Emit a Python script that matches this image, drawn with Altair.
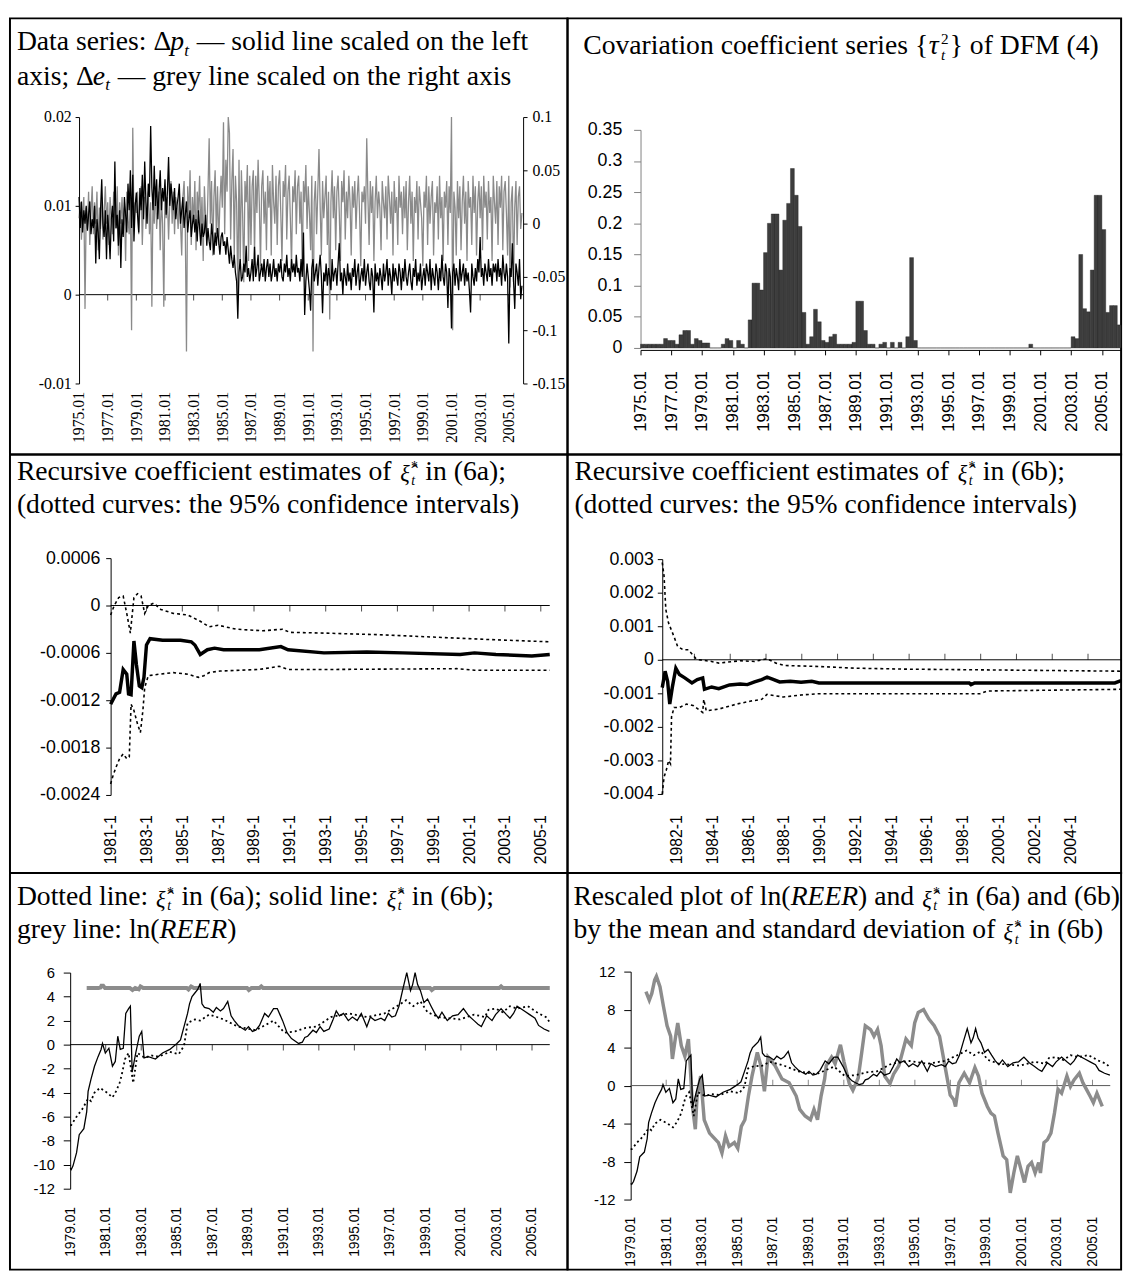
import altair as alt
import pandas as pd
import unicodedata

SERIF = "Liberation Serif, Times New Roman, serif"
SANS = "Liberation Sans, Arial, sans-serif"

WL, WR = 565, 561
H1, H2, H3 = 442, 424, 402
TS = 28

# ---------------- Panel 1: monthly data 1975.01-2005.12 ----------------
dp_x1e4 = [
    [110, 75, 105, 70, 95, 80, 100, 72, 90, 105, 68, 85],
    [75, 100, 35, 85, 70, 40, 95, 130, 80, 65, 95, 40],
    [90, 70, 40, 85, 100, 60, 150, 75, 90, 55, 95, 30],
    [85, 65, 110, 90, 70, 125, 95, 140, 75, 135, 60, 100],
    [115, 90, 70, 120, 95, 135, 85, 150, 105, 80, 125, 110],
    [190, 120, 95, 145, 100, 130, 85, 115, 140, 95, 120, 105],
    [130, 90, 115, 155, 100, 125, 110, 95, 120, 85, 100, 110],
    [125, 80, 95, 110, 75, 90, 105, 70, 85, 95, 65, 80],
    [90, 70, 85, 60, 95, 75, 55, 80, 65, 70, 90, 55],
    [75, 60, 50, 80, 65, 45, 70, 55, 75, 60, 45, 65],
    [70, 55, 60, 45, 65, 50, 35, 55, 40, 30, 45, 25],
    [15, -27, 25, 40, 15, 20, 35, 25, 55, 20, 30, 15],
    [25, 40, 15, 54, 20, 30, 45, 15, 25, 35, 20, 40],
    [15, 30, 40, 20, 35, 15, 25, 40, 20, 30, 15, 35],
    [25, 40, 20, 15, 35, 25, 45, 20, 30, 15, 40, 25],
    [35, 20, 45, 25, 30, 15, 40, 20, 70, -23, 15, 35],
    [20, 5, -18, 30, 40, 15, 25, 35, 10, 30, 45, 20],
    [-21, 25, 15, 35, 10, 30, 20, 5, 40, 15, 25, 30],
    [10, 35, 58, 15, 25, 0, 30, 20, 10, 35, 15, 25],
    [5, 30, 20, 40, 10, 25, 35, 5, 20, 30, 15, 40],
    [10, 25, 35, 15, 5, 30, 20, -20, 35, 15, 25, 10],
    [30, 20, 5, 35, 15, 25, 40, 10, 30, 20, 0, 35],
    [15, 30, 20, 10, 35, 25, 5, 30, 15, 40, 20, 10],
    [25, 35, 15, 5, 30, 20, 40, 10, 25, 15, 35, 5],
    [20, 30, 10, 35, 25, 15, 40, 5, 30, 20, 10, 35],
    [25, 5, 30, 15, 45, 20, 10, 35, 25, -15, 30, 20],
    [-38, 25, 35, 10, 30, 20, 5, 40, 15, 25, 35, 10],
    [30, 15, 25, 5, -20, 35, 20, 10, 30, 15, 40, 25],
    [65, 20, 30, 10, 35, 25, 15, 40, 20, 30, 10, 35],
    [25, 35, 15, 40, 20, 30, 10, 45, 25, 15, 35, 20],
    [-55, 30, 20, 58, 15, -16, 35, 25, 10, 40, -5, 10],
]
de_x1e3 = [
    [5, 20, -15, 10, 25, -80, 15, -5, 30, -20, 10, 35],
    [-10, 20, 0, 30, -25, 15, -5, 25, -15, 10, 35, 0],
    [20, -20, 25, 5, -10, 30, 10, -5, 35, -30, 20, 0],
    [25, -5, 15, -35, 30, 5, -10, 25, -100, 90, 0, 20],
    [10, 30, -10, 15, 35, -20, 20, 25, -5, 15, 30, -10],
    [20, -78, 25, 0, 35, -5, 15, 30, -25, 25, 0, -78],
    [35, 5, 25, -15, 20, 40, 0, 30, -10, 25, 15, -5],
    [30, 0, -30, 25, 40, -5, -120, 35, 5, 50, -20, 25],
    [0, 40, -25, 30, 10, 45, -10, 25, -35, 35, 5, -15],
    [30, 80, 0, 40, -30, 25, 50, -10, 35, -20, 20, 45],
    [15, 95, -10, 60, 30, 100, 85, -15, 40, 70, -30, 45],
    [20, -70, 60, -40, 50, 10, -55, 40, 20, 55, -35, 45],
    [-20, 35, 50, -30, 45, 10, 60, 20, -40, 35, 50, 0],
    [30, -25, 45, 15, 40, -30, 55, 20, 0, 45, -20, 35],
    [50, 10, -35, 40, 25, 55, -15, 30, 45, 5, -40, 35],
    [20, 50, -10, 35, 45, 0, 30, -45, 40, 20, 55, -5],
    [35, 10, -25, 45, -120, 20, 40, -10, 30, 70, 15, -30],
    [40, 5, 25, 45, -20, 30, -90, 20, 50, 5, 35, -25],
    [30, 45, 10, -35, 40, 20, 50, -15, 30, 5, 45, 20],
    [-30, 35, 15, 40, -5, 25, 45, 10, -40, 30, 20, 35],
    [0, 80, 25, -20, 40, 10, 35, -35, 20, 45, 5, 30],
    [15, -25, 40, 20, 5, 35, -15, 45, 25, 0, 30, -30],
    [40, 10, 25, -20, 45, 15, 30, -10, 35, 5, 40, -25],
    [20, 45, 0, 30, -35, 25, 10, 40, -15, 35, 20, 5],
    [-40, 30, 15, 45, -20, 35, 0, 25, 40, -30, 20, 10],
    [35, -15, 45, 5, 25, -35, 30, 15, 40, -20, 35, 10],
    [100, -100, 30, 15, -30, 40, 5, 35, -25, 20, 45, 0],
    [30, -35, 40, 15, 25, -20, 45, 10, 35, -30, 20, 40],
    [5, 35, -25, 45, 15, 30, -15, 40, 10, 25, -35, 45],
    [20, 0, 40, -20, 35, 15, 45, -25, 30, 40, 10, -30],
    [45, -60, 20, 35, -55, 15, 40, -20, 25, 35, -5, 10],
]

# ---------------- Panel 2: quarterly tau^2, from 1975Q1 ----------------
tau2 = [0.006, 0.006, 0.006, 0.006, 0.006, 0.006, 0.015, 0.012, 0.012, 0.006,
        0.021, 0.028, 0.028, 0.006, 0.015, 0.012, 0.008, 0.008, 0, 0,
        0, 0.006, 0.015, 0.012, 0, 0.012, 0.006, 0, 0.045, 0.104,
        0.104, 0.093, 0.153, 0.2, 0.215, 0.215, 0.125, 0.205, 0.232, 0.288,
        0.245, 0.195, 0.057, 0.006, 0.018, 0.062, 0.042, 0.012, 0.009, 0.018,
        0.022, 0.006, 0.006, 0.006, 0.006, 0.009, 0.075, 0.075, 0.028, 0.006,
        0.006, 0, 0.006, 0.009, 0, 0.009, 0, 0.009, 0, 0.018,
        0.145, 0.012, 0, 0, 0, 0, 0, 0, 0, 0,
        0, 0, 0, 0, 0, 0, 0, 0, 0, 0,
        0, 0, 0, 0, 0, 0, 0, 0, 0, 0,
        0, 0.006, 0, 0, 0, 0, 0, 0, 0, 0,
        0, 0, 0.018, 0.015, 0.15, 0.063, 0.058, 0.125, 0.245,
        0.245, 0.19, 0.057, 0.068, 0.068, 0.037]

# ---------------- Panel 3: recursive estimates (6a) ----------------
a_est_yr = [1981.0, 1981.3, 1981.5, 1981.7, 1981.9, 1982.0, 1982.14, 1982.3, 1982.44, 1982.6,
            1982.74, 1982.86, 1983.0, 1983.2, 1983.9, 1984.9, 1985.5, 1985.7, 1986.0, 1986.4,
            1986.8, 1987.3, 1989.3, 1990.5, 1990.9, 1992.9, 1995.3, 1997.3, 2000.5, 2001.3,
            2002.5, 2004.5, 2005.5]
a_est = [-0.00125, -0.00112, -0.0011, -0.00081, -0.00087, -0.00112, -0.00113, -0.00045, -0.00075, -0.00102,
         -0.00104, -0.00091, -0.0005, -0.00042, -0.00044, -0.00044, -0.00046, -0.0005, -0.00062, -0.00056,
         -0.00054, -0.00056, -0.00056, -0.00052, -0.00056, -0.0006, -0.00059, -0.0006, -0.00062, -0.0006,
         -0.00062, -0.00064, -0.00062]
a_up_yr = [1981.0, 1981.2, 1981.45, 1981.7, 1981.9, 1982.1, 1982.3, 1982.5, 1982.7, 1982.9,
           1983.1, 1983.4, 1983.8, 1984.5, 1985.3, 1986.0, 1986.5, 1987.0, 1988.0, 1989.5,
           1990.6, 1991.0, 1993.0, 1996.0, 1999.0, 2002.0, 2005.5]
a_up = [-0.00012, 0.0, 0.0001, 0.00012, -0.0001, -0.00035, 0.0001, 0.00015, 0.00012, -0.0001,
        0.0, 0.00003, -0.00005, -0.0001, -0.00012, -0.0002, -0.00027, -0.00025, -0.0003, -0.00032,
        -0.0003, -0.00034, -0.00035, -0.00037, -0.0004, -0.00043, -0.00046]
a_lo_yr = [1981.0, 1981.14, 1981.3, 1981.5, 1981.7, 1981.9, 1982.04, 1982.14, 1982.3, 1982.5,
           1982.66, 1982.8, 1982.9, 1983.1, 1983.7, 1984.5, 1985.3, 1985.9, 1986.2, 1986.5,
           1987.1, 1989.3, 1990.4, 1990.9, 1993.3, 2000.3, 2001.3, 2005.5]
a_lo = [-0.00226, -0.00215, -0.00205, -0.00194, -0.00188, -0.00194, -0.00192, -0.00125, -0.00133, -0.0015,
        -0.00161, -0.00133, -0.00104, -0.00089, -0.00087, -0.00085, -0.00087, -0.00091, -0.00089, -0.00085,
        -0.00083, -0.00081, -0.00077, -0.00081, -0.00081, -0.0008, -0.00082, -0.00082]

# ---------------- Panel 4: recursive estimates (6b) ----------------
b_est_yr = [1981.2, 1981.36, 1981.5, 1981.62, 1981.76, 1981.96, 1982.16, 1982.46, 1982.86, 1983.16,
            1983.46, 1983.56, 1983.96, 1984.36, 1984.96, 1985.56, 1985.96, 1986.36, 1986.76, 1987.06,
            1987.36, 1987.76, 1988.36, 1988.96, 1989.56, 1989.96, 1993.96, 1998.36, 1998.46, 1998.66,
            2003.96, 2006.5, 2006.85]
b_est = [-0.00083, -0.00034, -0.00064, -0.00132, -0.00083, -0.00025, -0.00044, -0.00054, -0.00069, -0.00059,
         -0.00054, -0.00088, -0.00081, -0.00086, -0.00075, -0.00072, -0.00074, -0.00066, -0.00059, -0.00052,
         -0.00058, -0.00066, -0.00064, -0.00067, -0.00064, -0.00069, -0.00069, -0.00069, -0.00074, -0.00069,
         -0.00069, -0.00069, -0.00062]
b_up_yr = [1981.2, 1981.3, 1981.4, 1981.55, 1981.7, 1981.85, 1982.06, 1982.36, 1982.66, 1983.06,
           1983.26, 1983.96, 1984.36, 1985.16, 1985.56, 1986.36, 1987.06, 1987.56, 1988.06, 1989.96,
           1991.96, 1994.96, 1998.96, 2002.96, 2006.85]
b_up = [0.0029, 0.0025, 0.0015, 0.0011, 0.0009, 0.0007, 0.0004, 0.0003, 0.0003, 0.00005,
        0.0, -0.00005, -0.0001, -0.00005, -0.00003, -0.00005, 0.00003, -0.0001, -0.00017, -0.0002,
        -0.00025, -0.00028, -0.0003, -0.00032, -0.00034]
b_lo_yr = [1981.2, 1981.3, 1981.42, 1981.56, 1981.66, 1981.72, 1981.86, 1982.16, 1982.56, 1982.96,
           1983.46, 1983.52, 1983.66, 1984.36, 1985.36, 1986.16, 1986.76, 1987.06, 1987.96, 1988.96,
           1989.96, 1998.96, 1999.36, 2006.85]
b_lo = [-0.004, -0.0035, -0.0033, -0.003, -0.0031, -0.0017, -0.00142, -0.00142, -0.00132, -0.00137,
        -0.00157, -0.00118, -0.00152, -0.00147, -0.00132, -0.00123, -0.00118, -0.00103, -0.00111, -0.00105,
        -0.00101, -0.00101, -0.00093, -0.00088]

# ---------------- Panels 5/6: xi* (6b) solid, (6a) dotted, ln(REER) ----------------
sol_yr = [1979.00, 1979.06, 1979.16, 1979.36, 1979.51, 1979.77, 1979.93, 1980.01, 1980.17, 1980.37,
          1980.57, 1980.74, 1980.82, 1980.98, 1981.18, 1981.38, 1981.54, 1981.68, 1981.82, 1981.99,
          1982.13, 1982.29, 1982.39, 1982.49, 1982.69, 1982.89, 1983.03, 1983.16, 1983.40, 1983.80,
          1984.20, 1984.61, 1985.01, 1985.21, 1985.41, 1985.61, 1985.72, 1985.86, 1986.02, 1986.18,
          1986.32, 1986.42, 1986.56, 1986.82, 1987.06, 1987.23, 1987.46, 1987.63, 1987.87, 1988.06,
          1988.24, 1988.46, 1988.64, 1988.86, 1989.04, 1989.26, 1989.45, 1989.66, 1989.95, 1990.16,
          1990.45, 1990.66, 1990.81, 1990.96, 1991.21, 1991.46, 1991.66, 1991.86, 1992.07, 1992.21,
          1992.37, 1992.67, 1992.86, 1993.07, 1993.28, 1993.58, 1993.78, 1993.98, 1994.16, 1994.39,
          1994.66, 1994.89, 1995.16, 1995.39, 1995.70, 1995.90, 1996.16, 1996.50, 1996.71, 1996.91,
          1997.11, 1997.31, 1997.51, 1997.71, 1997.95, 1998.16, 1998.28, 1998.42, 1998.56, 1998.72,
          1998.92, 1999.12, 1999.32, 1999.53, 1999.73, 1999.93, 2000.23, 2000.53, 2000.84, 2001.14,
          2001.44, 2001.74, 2001.96, 2002.15, 2002.45, 2002.75, 2002.95, 2003.26, 2003.56, 2003.76,
          2003.96, 2004.16, 2004.57, 2004.87, 2005.17, 2005.37, 2005.68, 2005.98]
sol = [-10.3, -10.4, -10.1, -9.0, -7.5, -7.0, -5.6, -3.9, -2.9, -1.8,
       -1.0, -0.4, 0.1, -0.7, -0.3, -1.8, -1.4, 0.7, -0.4, -0.3,
       2.6, 3.0, 3.2, -2.3, -0.7, 0.7, 1.1, -1.1, -1.0, -1.2,
       -0.7, -0.4, 0.1, 0.4, 1.5, 2.6, 3.4, 4.0, 4.3, 4.6,
       5.1, 3.4, 3.1, 3.0, 2.7, 3.1, 2.8, 3.0, 3.6, 2.4,
       2.0, 1.6, 1.4, 1.2, 1.5, 1.1, 1.2, 1.6, 2.6, 2.3,
       3.0, 3.0, 2.5, 2.0, 1.0, 0.5, 0.3, 0.1, 0.2, 0.6,
       0.7, 1.2, 1.0, 1.5, 1.1, 1.3, 2.0, 2.8, 2.4, 2.6,
       2.0, 2.3, 2.0, 2.6, 1.5, 2.3, 2.0, 2.2, 2.0, 2.6,
       2.3, 2.4, 3.2, 4.5, 6.0, 4.5, 5.0, 6.0, 5.0, 4.5,
       3.5, 3.8, 3.2, 2.6, 2.2, 2.7, 2.0, 2.4, 2.5, 3.0,
       2.4, 2.0, 1.7, 1.5, 2.4, 2.0, 2.5, 3.0, 2.5, 2.2,
       2.6, 3.2, 2.8, 2.5, 2.2, 1.6, 1.3, 1.1]
dot_yr = [1979.00, 1979.06, 1979.36, 1979.67, 1980.01, 1980.17, 1980.37, 1980.68, 1981.08, 1981.38,
          1981.58, 1981.78, 1981.89, 1982.09, 1982.29, 1982.55, 1982.79, 1983.20, 1983.56, 1984.00,
          1984.61, 1985.11, 1985.41, 1985.61, 1986.02, 1986.32, 1986.82, 1987.26, 1987.63, 1988.44,
          1989.45, 1990.45, 1991.06, 1991.66, 1992.27, 1992.87, 1993.68, 1994.69, 1995.70, 1996.70,
          1997.51, 1997.91, 1998.32, 1998.72, 1999.12, 1999.73, 2000.94, 2001.74, 2002.35, 2002.55,
          2002.95, 2003.36, 2003.76, 2004.16, 2004.77, 2005.37, 2005.78, 2005.98]
dot = [-6.7, -6.7, -6.0, -5.4, -4.5, -4.7, -4.0, -3.6, -4.0, -4.4,
       -3.9, -3.2, -2.6, -1.2, -0.7, -3.2, -0.7, -1.1, -0.9, -1.0,
       -0.6, -0.8, -0.1, 1.8, 2.1, 2.0, 2.5, 2.3, 2.1, 1.5,
       1.2, 2.0, 1.0, 1.1, 1.4, 1.5, 2.3, 2.6, 2.3, 2.6,
       3.3, 3.7, 3.2, 3.6, 2.7, 2.3, 2.1, 2.5, 2.3, 2.9,
       3.0, 2.7, 3.2, 3.0, 3.2, 2.6, 2.3, 1.9]
reer_yr = [1979.93, 1980.6, 1980.71, 1980.76, 1980.86, 1980.96, 1982.36, 1982.51, 1982.66, 1982.86,
           1982.96, 1983.11, 1985.56, 1985.66, 1985.81, 1985.96, 1988.96, 1989.06, 1989.21, 1989.66,
           1989.76, 1989.86, 1999.26, 1999.36, 1999.51, 2003.16, 2003.26, 2003.36, 2006.0]
reer = [4.72, 4.72, 4.75, 4.9, 4.9, 4.72, 4.72, 4.55, 4.72, 4.6,
        4.85, 4.72, 4.72, 4.6, 4.85, 4.72, 4.72, 4.55, 4.72, 4.72,
        4.85, 4.72, 4.72, 4.55, 4.72, 4.72, 4.85, 4.72, 4.72]
reer_s_yr = [1979.86, 1980.05, 1980.19, 1980.35, 1980.45, 1980.65, 1980.85, 1981.05, 1981.25, 1981.35,
             1981.51, 1981.65, 1981.85, 1982.05, 1982.25, 1982.35, 1982.48, 1982.64, 1982.74, 1982.94,
             1983.14, 1983.44, 1983.94, 1984.14, 1984.34, 1984.54, 1984.84, 1985.03, 1985.23, 1985.43,
             1985.63, 1985.83, 1986.13, 1986.33, 1986.53, 1986.73, 1987.13, 1987.52, 1987.92, 1988.32,
             1988.52, 1988.82, 1989.12, 1989.32, 1989.52, 1989.72, 1989.92, 1990.01, 1990.31, 1990.51,
             1990.81, 1991.01, 1991.31, 1991.51, 1991.81, 1992.01, 1992.21, 1992.51, 1992.70, 1992.90,
             1993.10, 1993.30, 1993.60, 1993.80, 1994.10, 1994.50, 1994.80, 1994.99, 1995.19, 1995.49,
             1995.79, 1996.09, 1996.39, 1996.69, 1996.99, 1997.19, 1997.29, 1997.48, 1997.78, 1998.08,
             1998.38, 1998.58, 1998.78, 1999.08, 1999.28, 1999.48, 1999.68, 1999.97, 2000.17, 2000.37,
             2000.57, 2000.77, 2000.97, 2001.17, 2001.37, 2001.57, 2001.77, 2001.97, 2002.07, 2002.27,
             2002.46, 2002.66, 2002.86, 2003.06, 2003.26, 2003.56, 2003.76, 2003.96, 2004.26, 2004.46,
             2004.66, 2004.86, 2005.05, 2005.25, 2005.55]
reer_s = [9.9, 9.0, 9.7, 11.1, 11.5, 10.4, 8.3, 6.3, 5.2, 2.8,
          4.9, 6.6, 4.2, 3.1, 4.9, 2.1, -2.2, -4.6, -1.1, 1.0,
          -3.6, -5.0, -6.0, -7.1, -5.3, -6.4, -6.0, -6.6, -4.3, -3.6,
          -1.1, 1.0, 3.5, 2.1, -0.6, 3.0, 2.1, 0.7, 0.3, -1.1,
          -2.5, -3.2, -3.6, -2.5, -3.6, -1.1, 0.7, 2.1, 3.0, 2.3,
          4.3, 2.5, 0.2, -0.5, 0.8, 3.5, 6.3, 5.9, 5.2, 5.9,
          4.2, 1.0, 0.2, 1.2, 2.1, 4.9, 4.2, 6.6, 7.7, 8.0,
          7.0, 6.3, 5.2, 2.1, -1.0, -1.5, -2.2, 0.3, 1.3, 0.3,
          1.9, 1.0, -0.8, -2.2, -2.9, -3.2, -5.0, -7.4, -7.8, -11.3,
          -9.2, -7.4, -8.8, -10.2, -8.5, -8.1, -9.2, -8.1, -9.2, -6.0,
          -5.7, -5.0, -2.9, -0.4, -0.8, 1.0, -0.1, 0.6, 1.3, 0.3,
          -0.4, -1.1, -1.8, -0.8, -2.2]

# ---------------- tick label lists ----------------
yrs_75 = list(range(1975, 2006, 2))
yrs_79 = list(range(1979, 2006, 2))
yrs_81 = list(range(1981, 2006, 2))
yrs_82 = list(range(1982, 2005, 2))

# ---------------- title texts (segments: regular / italic / math) ----------------
T1a = [("r", "Data series: Δ"), ("i", "p"), ("sub", "t"), ("r", " — solid line scaled on the left")]
T1b = [("r", "axis; Δ"), ("i", "e"), ("sub", "t"), ("r", " — grey line scaled on the right axis")]
T2 = [("r", "Covariation coefficient series {"), ("i", "τ"), ("subsup", ("t", "2")),
      ("r", "} of DFM (4)")]
T3a = [("r", "Recursive coefficient estimates of "), ("xi", ""), ("r", " in (6a);")]
T4a = [("r", "Recursive coefficient estimates of "), ("xi", ""), ("r", " in (6b);")]
T34b = [("r", "(dotted curves: the 95% confidence intervals)")]
T5a = [("r", "Dotted line: "), ("xi", ""), ("r", " in (6a); solid line: "), ("xi", ""), ("r", " in (6b);")]
T5b = [("r", "grey line: ln("), ("i", "REER"), ("r", ")")]
T6a = [("r", "Rescaled plot of ln("), ("i", "REER"), ("r", ") and "), ("xi", ""), ("r", " in (6a) and (6b)")]
T6b = [("r", "by the mean and standard deviation of "), ("xi", ""), ("r", " in (6b)")]

# Times-compatible advance widths (1/1000 em) used to place the title segments
_W = {}
for w, chars in [(250, " ,."), (278, ":;ijlt"), (333, "()-frI"), (389, "sJ"), (444, "acez"),
                 (480, "{}"), (500, "*0123456789bdghknopquvxy"), (556, "FPS"), (611, "ELTZ"),
                 (612, "Δ"), (667, "BCR"), (722, "ADGHKNOQUVXYw"), (778, "m"), (833, "%"),
                 (889, "M"), (944, "W"), (1000, "—"), (439, "τ"), (440, "ξ")]:
    for c in chars:
        _W[c] = w


def text_w(s, italic=False):
    tot, prev = 0, False
    for c in s:
        if unicodedata.combining(c):
            continue
        if c == " ":
            if prev:
                continue
            prev = True
        else:
            prev = False
        w = _W.get(c, 500)
        if italic and c == "R":
            w = 611
        tot += w
    return tot / 1000


def tlayer(s, x, yb, size, italic=False):
    return alt.Chart(pd.DataFrame({"t": [s]})).mark_text(
        align="left", baseline="alphabetic", font=SERIF, fontSize=size,
        fontStyle="italic" if italic else "normal", color="black"
    ).encode(text="t:N", x=alt.value(round(x, 1)), y=alt.value(round(yb, 1)))


def rich(parts, x, y_mid, size=TS):
    yb = y_mid + 0.30 * size
    out, cur = [], x
    for kind, txt in parts:
        if kind in ("r", "i"):
            lead = txt.startswith(" ")
            xs = cur + (0.25 * size if lead else 0)
            out.append(tlayer(txt.strip(" "), xs, yb, size, italic=(kind == "i")))
            cur += text_w(txt, kind == "i") * size
        elif kind == "sub":
            s2 = 0.62 * size
            out.append(tlayer(txt, cur, yb + 0.2 * size, s2, italic=True))
            cur += text_w(txt) * s2 + 0.03 * size
        elif kind == "subsup":
            sub, sup = txt
            s2 = 0.55 * size
            out.append(tlayer(sub, cur, yb + 0.2 * size, s2, italic=True))
            out.append(tlayer(sup, cur, yb - 0.38 * size, s2))
            cur += max(text_w(sub), text_w(sup)) * s2 + 0.04 * size
        elif kind == "xi":
            s1 = 0.8 * size
            out.append(tlayer("ξ\u0302", cur + 0.04 * size, yb + 0.06 * size, s1, italic=True))
            cur += 0.44 * s1 + 0.08 * size
            s2 = 0.5 * size
            out.append(tlayer("*", cur, yb - 0.3 * size, s2))
            out.append(tlayer("t", cur + 0.01 * size, yb + 0.2 * size, s2, italic=True))
            cur += 0.5 * s2 + 0.02 * size
    return out


# ---------------- helpers ----------------
def xlab(values, expr, H, top, font, size, domain=False, tick=0, pad=0):
    return alt.Axis(values=values, labelExpr=expr, orient="bottom", offset=top - H,
                    domain=domain, domainColor="black", ticks=tick > 0, tickSize=tick,
                    tickColor="black", labelAngle=270, labelAlign="right", labelBaseline="middle",
                    labelPadding=pad, labelFont=font, labelFontSize=size, labelColor="black",
                    labelFlush=False, labelOverlap=False, grid=False, title=None)


def yax(values, xpos, font, size, orient="left", W=0, color="black", pad=3, tick=4):
    off = -xpos if orient == "left" else -(W - xpos)
    return alt.Axis(values=values, labelExpr="'' + datum.value", orient=orient, offset=off,
                    domainColor=color, tickColor=color, tickSize=tick, labelFont=font,
                    labelFontSize=size, labelColor="black", labelPadding=pad, grid=False,
                    title=None, labelFlush=False, labelOverlap=False)


def zero_layer(x0, x1, sx, sy, xa, ya, color="black"):
    return alt.Chart(pd.DataFrame({"yr": [x0, x1], "v": [0, 0]})).mark_line(
        color=color, strokeWidth=1).encode(
        x=alt.X("yr:Q", scale=sx, axis=xa), y=alt.Y("v:Q", scale=sy, axis=ya))


def tick_layer(years, sx, sy, xa, ya, down=True, color="black"):
    return alt.Chart(pd.DataFrame({"yr": years, "v": [0] * len(years)})).mark_tick(
        orient="vertical", size=6, thickness=1, color=color, yOffset=3 if down else -3).encode(
        x=alt.X("yr:Q", scale=sx, axis=xa), y=alt.Y("v:Q", scale=sy, axis=ya))


def line(xs, ys, sx, sy, xa, ya, **kw):
    df = pd.DataFrame({"yr": xs, "v": ys})
    return alt.Chart(df).mark_line(**kw).encode(
        x=alt.X("yr:Q", scale=sx, axis=xa), y=alt.Y("v:Q", scale=sy, axis=ya))


DASH = [3, 3]

# ---------------- Panel 1 ----------------
yr1 = [1975 + i / 12 for i in range(372)]
dp = [v * 1e-4 for row in dp_x1e4 for v in row]
de = [v * 1e-3 for row in de_x1e3 for v in row]
sx1 = alt.Scale(domain=[1975, 2006], range=[70, 520], nice=False, zero=False)
syl = alt.Scale(domain=[-0.01, 0.02], range=[370, 100], nice=False, zero=False)
syr = alt.Scale(domain=[-0.15, 0.1], range=[370, 100], nice=False, zero=False)
xa1 = xlab(yrs_75, "datum.value + '.01'", H1, 378, SERIF, 16)
ya1l = yax([-0.01, 0, 0.01, 0.02], 70, SERIF, 16, pad=4)
ya1r = yax([-0.15, -0.1, -0.05, 0, 0.05, 0.1], 520, SERIF, 16, orient="right", W=WL, pad=5)
p1 = alt.layer(
    zero_layer(1975, 2006, sx1, syl, xa1, None),
    tick_layer(yrs_75[1:], sx1, syl, xa1, None, down=True),
    line(yr1, de, sx1, syr, xa1, ya1r, color="#8a8a8a", strokeWidth=1.3),
    line(yr1, dp, sx1, syl, xa1, ya1l, color="black", strokeWidth=1.3),
    *rich(T1a, 7, 24), *rich(T1b, 7, 59),
).resolve_scale(y="independent").properties(width=WL, height=H1)

# ---------------- Panel 2 ----------------
df2 = pd.DataFrame({"s": [1975 + q / 4 for q in range(len(tau2))],
                    "e": [1975 + (q + 1) / 4 for q in range(len(tau2))],
                    "v": tau2, "z": [0.0] * len(tau2)})
sx2 = alt.Scale(domain=[1975, 1975 + len(tau2) / 4], range=[74, WR], nice=False, zero=False)
sy2 = alt.Scale(domain=[0, 0.35], range=[334, 113], nice=False, zero=False)
p2 = alt.layer(
    alt.Chart(df2).mark_bar(color="#3d3d3d", stroke="#1e1e1e", strokeWidth=0.4).encode(
        x=alt.X("s:Q", scale=sx2, axis=xlab(yrs_75, "datum.value + '.01'", H1, 336, SANS, 17,
                                              domain=True, tick=5, pad=16)),
        x2="e:Q",
        y=alt.Y("v:Q", scale=sy2, axis=yax([0, 0.05, 0.1, 0.15, 0.2, 0.25, 0.3, 0.35], 74,
                                            SANS, 18, color="#808080", pad=12, tick=7)),
        y2="z:Q",
    ),
    *rich(T2, 16, 28),
).properties(width=WR, height=H1)

# ---------------- Panel 3 ----------------
sx3 = alt.Scale(domain=[1981, 2005.5], range=[102, 547], nice=False, zero=False)
sy3 = alt.Scale(domain=[-0.0024, 0.0006], range=[345, 105], nice=False, zero=False)
xa3 = xlab(yrs_81, "datum.value + '-1'", H2, 365, SANS, 16)
ya3 = yax([-0.0024, -0.0018, -0.0012, -0.0006, 0, 0.0006], 102, SANS, 18, pad=6, tick=5)
p3 = alt.layer(
    zero_layer(1981, 2005.5, sx3, sy3, xa3, ya3),
    tick_layer(yrs_81[1:], sx3, sy3, xa3, ya3, down=True),
    line(a_up_yr, a_up, sx3, sy3, xa3, ya3, color="black", strokeWidth=1.6, strokeDash=DASH),
    line(a_lo_yr, a_lo, sx3, sy3, xa3, ya3, color="black", strokeWidth=1.6, strokeDash=DASH),
    line(a_est_yr, a_est, sx3, sy3, xa3, ya3, color="black", strokeWidth=3.5),
    *rich(T3a, 7, 17), *rich(T34b, 7, 51),
).properties(width=WL, height=H2)

# ---------------- Panel 4 ----------------
sx4 = alt.Scale(domain=[1981.2, 2006.85], range=[96, WR], nice=False, zero=False)
sy4 = alt.Scale(domain=[-0.004, 0.003], range=[344, 106], nice=False, zero=False)
xa4 = xlab(yrs_82, "datum.value + '-1'", H2, 365, SANS, 16)
ya4 = yax([-0.004, -0.003, -0.002, -0.001, 0, 0.001, 0.002, 0.003], 96, SANS, 18, pad=4, tick=5)
p4 = alt.layer(
    zero_layer(1981.2, 2006.85, sx4, sy4, xa4, ya4),
    tick_layer(list(range(1983, 2007, 2)), sx4, sy4, xa4, ya4, down=False),
    line(b_up_yr, b_up, sx4, sy4, xa4, ya4, color="black", strokeWidth=1.6, strokeDash=DASH),
    line(b_lo_yr, b_lo, sx4, sy4, xa4, ya4, color="black", strokeWidth=1.6, strokeDash=DASH),
    line(b_est_yr, b_est, sx4, sy4, xa4, ya4, color="black", strokeWidth=3.5),
    *rich(T4a, 7, 17), *rich(T34b, 7, 51),
).properties(width=WR, height=H2)

# ---------------- Panel 5 ----------------
sx5 = alt.Scale(domain=[1979, 2006], range=[61, 547], nice=False, zero=False)
sy5 = alt.Scale(domain=[-12, 6], range=[320, 101], nice=False, zero=False)
xa5 = xlab(yrs_79, "datum.value + '.01'", H3, 338, SANS, 14)
ya5 = yax(list(range(-12, 7, 2)), 61, SANS, 15, pad=9, tick=7)
p5 = alt.layer(
    zero_layer(1979, 2006, sx5, sy5, xa5, ya5),
    tick_layer(yrs_79[1:], sx5, sy5, xa5, ya5, down=True),
    line(reer_yr, reer, sx5, sy5, xa5, ya5, color="#8c8c8c", strokeWidth=4),
    line(dot_yr, dot, sx5, sy5, xa5, ya5, color="black", strokeWidth=1.8, strokeDash=[2, 3]),
    line(sol_yr, sol, sx5, sy5, xa5, ya5, color="black", strokeWidth=1.3),
    *rich(T5a, 7, 24), *rich(T5b, 7, 58),
).properties(width=WL, height=H3)

# ---------------- Panel 6 ----------------
sx6 = alt.Scale(domain=[1979, 2006], range=[64, 550], nice=False, zero=False)
sy6 = alt.Scale(domain=[-12, 12], range=[331, 100], nice=False, zero=False)
xa6 = xlab(yrs_79, "datum.value + '.01'", H3, 348, SANS, 14)
ya6 = yax(list(range(-12, 13, 4)), 64, SANS, 15, pad=9, tick=7)
p6 = alt.layer(
    zero_layer(1979, 2006, sx6, sy6, xa6, ya6, color="#555555"),
    tick_layer(yrs_79[1:], sx6, sy6, xa6, ya6, down=False, color="#555555"),
    line(reer_s_yr, reer_s, sx6, sy6, xa6, ya6, color="#8c8c8c", strokeWidth=3.5),
    line(dot_yr, dot, sx6, sy6, xa6, ya6, color="black", strokeWidth=1.8, strokeDash=[2, 3]),
    line(sol_yr, sol, sx6, sy6, xa6, ya6, color="black", strokeWidth=1.3),
    *rich(T6a, 6, 24), *rich(T6b, 6, 58),
).properties(width=WR, height=H3)

chart = alt.concat(p1, p2, p3, p4, p5, p6, columns=2, spacing=0, bounds="flush").properties(
    padding={"left": 1, "top": 1, "right": 0, "bottom": 0}, background="white"
).configure_view(stroke="black", strokeWidth=2)

chart.save("out.html", embed_options={"renderer": "svg", "actions": False})
